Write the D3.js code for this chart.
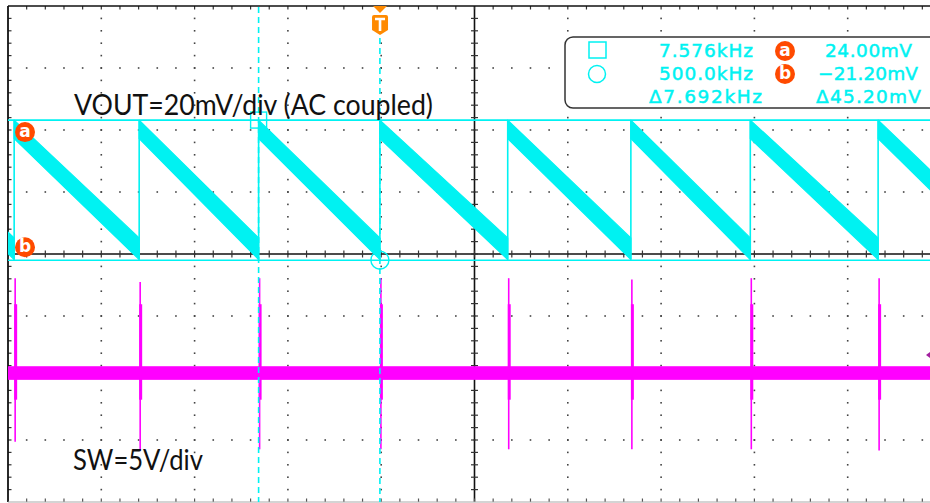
<!DOCTYPE html>
<html>
<head>
<meta charset="utf-8">
<script src="https://cdn.jsdelivr.net/npm/d3@7"></script>
<style>
  body { margin: 0; background: #fff; }
  svg { display: block; }
</style>
</head>
<body>
<svg id="scope" width="930" height="503"></svg>
<script>
// time base 100 us/div, trigger at t = 0
const timeDomain = [-396.6, 603.4];
// switching instants (us) - VOUT reset edges and SW spikes
const edgeTimes = [-390, -256, -128, 2, 139, 271, 399, 536];
const lastPeriod = 132;
// VOUT band (mV): upper / lower edge at start and end of each ramp
const rampUpper = [24.0, -14.0];
const rampLower = [18.0, -21.0];
const voutDomain = [-99.2, 60.8];   // 20 mV/div
// SW node (V), 5 V/div
const swDomain = [-11.85, 28.15];
const swBand = [-0.9, -2.0];
const swSpikeHigh = [6.2, 5.9, 6.2, 6.2, 6.2, 6.1, 6.2, 6.2];
const swSpikeLow = [-7.0, -7.7, -7.6, -7.6, -7.6, -7.6, -7.6, -7.7];
const swSpikeBody = [4.1, -3.6];
const swGround = 0;
// cursors
const cursorTimes = [-128, 2];
const cursorLevels = [24.00, -21.20];
const readoutFreq = ["7.576kHz", "500.0kHz", "\u03947.692kHz"];
const readoutVolt = ["24.00mV", "\u221221.20mV", "\u039445.20mV"];
const channelLabels = ["VOUT=20mV/div (AC coupled)", "SW=5V/div"];

const CYAN = "#00f2f2", MAGENTA = "#ff00ff", ORANGE = "#ff8a00", RED = "#ff4a00";

const svg = d3.select("#scope");
const gx = d3.scaleLinear().domain([0, 10]).range([8, 941]);
const gy = d3.scaleLinear().domain([0, 8]).range([6, 502]);
const x = d3.scaleLinear().domain(timeDomain).range([8, 941]);
const yV = d3.scaleLinear().domain(voutDomain).range([502, 6]);
const yS = d3.scaleLinear().domain(swDomain).range([502, 6]);

svg.append("defs").append("clipPath").attr("id", "plot")
  .append("rect").attr("x", 8).attr("y", 6).attr("width", 930).attr("height", 496);

// graticule
const grid = svg.append("g");
const dots = [];
for (let k = 1; k < 10; k++) {
  if (k === 5) continue;
  for (let m = 1; m < 40; m++) dots.push([gx(k), gy(m / 5)]);
}
for (let j = 1; j < 8; j++) {
  if (j === 4) continue;
  for (let m = 1; m < 50; m++) dots.push([gx(m / 5), gy(j)]);
}
grid.selectAll(".dot").data(dots).join("rect")
  .attr("x", d => d[0] - 0.8).attr("y", d => d[1] - 0.8)
  .attr("width", 1.6).attr("height", 1.6).attr("fill", "#444");

// center cross with minor ticks
grid.append("line").attr("x1", gx(5)).attr("x2", gx(5)).attr("y1", gy(0)).attr("y2", gy(8))
  .attr("stroke", "#111").attr("stroke-width", 1.6);
grid.append("line").attr("x1", gx(0)).attr("x2", 941).attr("y1", gy(4)).attr("y2", gy(4))
  .attr("stroke", "#111").attr("stroke-width", 1.6);
const hTicks = d3.range(1, 50), vTicks = d3.range(1, 40);
grid.selectAll(".ht").data(hTicks).join("line")
  .attr("x1", d => gx(d / 5)).attr("x2", d => gx(d / 5))
  .attr("y1", gy(4) - 3.5).attr("y2", gy(4) + 3.5).attr("stroke", "#333").attr("stroke-width", 1.2);
grid.selectAll(".vt").data(vTicks).join("line")
  .attr("y1", d => gy(d / 5)).attr("y2", d => gy(d / 5))
  .attr("x1", gx(5) - 3.5).attr("x2", gx(5) + 3.5).attr("stroke", "#333").attr("stroke-width", 1.2);
// border ticks
grid.selectAll(".tt").data(hTicks).join("line")
  .attr("x1", d => gx(d / 5)).attr("x2", d => gx(d / 5))
  .attr("y1", gy(0)).attr("y2", gy(0) + 3.5).attr("stroke", "#333").attr("stroke-width", 1.2);
grid.selectAll(".bt").data(hTicks).join("line")
  .attr("x1", d => gx(d / 5)).attr("x2", d => gx(d / 5))
  .attr("y1", gy(8)).attr("y2", gy(8) - 3.5).attr("stroke", "#555").attr("stroke-width", 1.2);
grid.selectAll(".lt").data(vTicks).join("line")
  .attr("y1", d => gy(d / 5)).attr("y2", d => gy(d / 5))
  .attr("x1", gx(0)).attr("x2", gx(0) + 3.5).attr("stroke", "#333").attr("stroke-width", 1.2);
// frame
grid.append("line").attr("x1", gx(0)).attr("x2", 941).attr("y1", gy(0)).attr("y2", gy(0))
  .attr("stroke", "#111").attr("stroke-width", 1.6);
grid.append("line").attr("x1", gx(0)).attr("x2", gx(0)).attr("y1", gy(0)).attr("y2", gy(8))
  .attr("stroke", "#111").attr("stroke-width", 1.8);
grid.append("line").attr("x1", gx(0)).attr("x2", 941).attr("y1", gy(8)).attr("y2", gy(8))
  .attr("stroke", "#aaa").attr("stroke-width", 1.2);

const plot = svg.append("g").attr("clip-path", "url(#plot)");

// horizontal cursors
plot.selectAll(".hc").data(cursorLevels).join("line")
  .attr("x1", 8).attr("x2", 941).attr("y1", d => yV(d)).attr("y2", d => yV(d))
  .attr("stroke", CYAN).attr("stroke-width", 1.6);

// VOUT sawtooth
const ramps = edgeTimes.map((t0, i) => {
  const t1 = i < edgeTimes.length - 1 ? edgeTimes[i + 1] : t0 + lastPeriod;
  return [[t0, rampUpper[0]], [t1, rampUpper[1]], [t1, rampLower[1]], [t0, rampLower[0]]];
});
// tail of the ramp before the first edge
const t0 = edgeTimes[0], tp = t0 - (edgeTimes[1] - edgeTimes[0]);
ramps.unshift([[tp, rampUpper[0]], [t0, rampUpper[1]], [t0, rampLower[1]], [tp, rampLower[0]]]);
const area = d3.line().x(d => x(d[0])).y(d => yV(d[1]));
plot.selectAll(".ramp").data(ramps).join("path")
  .attr("d", d => area(d) + "Z").attr("fill", CYAN)
  .attr("stroke", CYAN).attr("stroke-width", 1.2).attr("stroke-linejoin", "round");
plot.selectAll(".edge").data(edgeTimes).join("line")
  .attr("x1", d => x(d)).attr("x2", d => x(d))
  .attr("y1", yV(rampLower[1])).attr("y2", yV(rampUpper[0]))
  .attr("stroke", CYAN).attr("stroke-width", 1.6);

// SW trace
plot.append("rect").attr("x", 8).attr("width", 933)
  .attr("y", yS(swBand[0])).attr("height", yS(swBand[1]) - yS(swBand[0]))
  .attr("fill", MAGENTA);
const spikes = plot.selectAll(".spk").data(edgeTimes).join("g");
spikes.append("line")
  .attr("x1", d => x(d) + 1).attr("x2", d => x(d) + 1)
  .attr("y1", (d, i) => yS(swSpikeHigh[i])).attr("y2", (d, i) => yS(swSpikeLow[i]))
  .attr("stroke", MAGENTA).attr("stroke-width", 1.6);
spikes.append("line")
  .attr("x1", d => x(d) + 1.5).attr("x2", d => x(d) + 1.5)
  .attr("y1", yS(swSpikeBody[0])).attr("y2", yS(swSpikeBody[1]))
  .attr("stroke", MAGENTA).attr("stroke-width", 3);

// vertical cursors (dashed)
svg.selectAll(".vc").data(cursorTimes).join("line")
  .attr("x1", d => x(d)).attr("x2", d => x(d))
  .attr("y1", (d, i) => i === 1 ? 38 : 7).attr("y2", 502)
  .attr("stroke", CYAN).attr("stroke-width", 1.6).attr("stroke-dasharray", "6,4");

// cursor markers
svg.append("rect").attr("x", x(cursorTimes[0]) - 8).attr("y", yV(cursorLevels[0]) - 8)
  .attr("width", 16).attr("height", 16).attr("fill", "none").attr("stroke", CYAN).attr("stroke-width", 1.4);
svg.append("circle").attr("cx", x(cursorTimes[1])).attr("cy", yV(cursorLevels[1])).attr("r", 9)
  .attr("fill", "none").attr("stroke", CYAN).attr("stroke-width", 1.4);

function badge(g, cx, cy, r, letter) {
  g.append("circle").attr("cx", cx).attr("cy", cy).attr("r", r).attr("fill", RED);
  g.append("text").attr("x", cx).attr("y", cy + r * 0.5).attr("text-anchor", "middle")
    .attr("font-family", "DejaVu Sans").attr("font-weight", "bold")
    .attr("font-size", r * 1.7).attr("fill", "#fff").text(letter);
}
badge(svg, 25, yV(cursorLevels[0]) + 12, 10, "a");
badge(svg, 25, yV(cursorLevels[1]) - 13, 10, "b");

// trigger marker
const tx = x(0) + 2;
svg.append("path").attr("d", `M${tx - 7},6 L${tx + 7},6 L${tx},13 Z`).attr("fill", ORANGE);
svg.append("path")
  .attr("d", `M${tx - 8},17 Q${tx - 8},15 ${tx - 6},15 L${tx + 6},15 Q${tx + 8},15 ${tx + 8},17 L${tx + 8},30 L${tx},35 L${tx - 8},30 Z`)
  .attr("fill", ORANGE);
svg.append("path").attr("d", `M${tx - 5},19 L${tx + 5},19 M${tx},19 L${tx},31`)
  .attr("stroke", "#fff").attr("stroke-width", 2.6);

// SW level marker
svg.append("path").attr("d", `M${926},${yS(swGround)} L${934},${yS(swGround) - 6} L${934},${yS(swGround) + 6} Z`)
  .attr("fill", "#a3209f");

// readout box
const box = svg.append("g");
box.append("rect").attr("x", 565).attr("y", 37).attr("width", 380).attr("height", 71).attr("rx", 8)
  .attr("fill", "#fff").attr("stroke", "#333").attr("stroke-width", 1.5);
box.append("rect").attr("x", 589).attr("y", 42).attr("width", 17).attr("height", 16)
  .attr("fill", "none").attr("stroke", CYAN).attr("stroke-width", 1.5);
box.append("circle").attr("cx", 597).attr("cy", 74).attr("r", 8.5)
  .attr("fill", "none").attr("stroke", CYAN).attr("stroke-width", 1.5);
const rowY = [57, 80, 103];
const freqPos = [[659, 94], [659, 94], [649, 113]];
const voltPos = [[825, 87], [818, 100], [816, 105]];
function readout(s, p, yy) {
  box.append("text").attr("x", p[0]).attr("y", yy)
    .attr("textLength", p[1]).attr("lengthAdjust", "spacing")
    .attr("font-family", "DejaVu Sans").attr("font-size", 18.5)
    .attr("fill", CYAN).attr("stroke", CYAN).attr("stroke-width", 0.5).text(s);
}
readoutFreq.forEach((s, i) => readout(s, freqPos[i], rowY[i]));
readoutVolt.forEach((s, i) => readout(s, voltPos[i], rowY[i]));
badge(box, 785, 51, 10, "a");
badge(box, 785, 74, 10, "b");

// channel labels
svg.append("text").attr("x", 74).attr("y", 115).attr("textLength", 359).attr("lengthAdjust", "spacingAndGlyphs")
  .attr("font-family", "Lato").attr("font-size", 28).attr("fill", "#111").text(channelLabels[0]);
svg.append("text").attr("x", 73).attr("y", 470).attr("textLength", 130).attr("lengthAdjust", "spacingAndGlyphs")
  .attr("font-family", "Lato").attr("font-size", 28).attr("fill", "#111").text(channelLabels[1]);
</script>
</body>
</html>
